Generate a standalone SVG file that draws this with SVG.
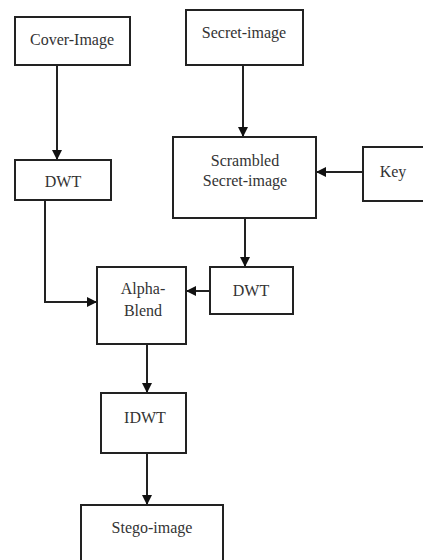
<svg xmlns="http://www.w3.org/2000/svg" width="423" height="560" viewBox="0 0 423 560">
<defs>
<style>
.box{fill:#fff;stroke:#222;stroke-width:2}
.t{font-family:"Liberation Serif","Times New Roman",serif;font-size:16px;fill:#333;text-anchor:middle}
.c{fill:none;stroke:#222;stroke-width:2}
</style>
<marker id="ah" markerWidth="10" markerHeight="10" refX="9" refY="5" orient="auto" markerUnits="userSpaceOnUse">
<path d="M0,0 L10,5 L0,10 Z" fill="#111"/>
</marker>
</defs>
<rect width="423" height="560" fill="#fff"/>
<g id="connectors">
<path class="c" d="M57,65 V159" marker-end="url(#ah)"/>
<path class="c" d="M243,65 V136" marker-end="url(#ah)"/>
<path class="c" d="M363,172 H317" marker-end="url(#ah)"/>
<path class="c" d="M245,218 V266" marker-end="url(#ah)"/>
<path class="c" d="M210,291 H187" marker-end="url(#ah)"/>
<path class="c" d="M45,200 V302 H96" marker-end="url(#ah)"/>
<path class="c" d="M147,344 V392" marker-end="url(#ah)"/>
<path class="c" d="M147,453 V504" marker-end="url(#ah)"/>
</g>
<g id="cover"><rect class="box" x="15" y="17" width="115" height="48"/><text class="t" x="72" y="45">Cover-Image</text></g>
<g id="secret"><rect class="box" x="186" y="10" width="117" height="55"/><text class="t" x="244" y="38">Secret-image</text></g>
<g id="dwt1"><rect class="box" x="15" y="160" width="96" height="40"/><text class="t" x="63" y="187">DWT</text></g>
<g id="scrambled"><rect class="box" x="173" y="137" width="143" height="81"/><text class="t" x="245" y="166">Scrambled</text><text class="t" x="245" y="186">Secret-image</text></g>
<g id="key"><rect class="box" x="363" y="147" width="70" height="54"/><text class="t" x="393" y="177">Key</text></g>
<g id="dwt2"><rect class="box" x="210" y="267" width="83" height="47"/><text class="t" x="251" y="296">DWT</text></g>
<g id="alpha"><rect class="box" x="97" y="267" width="89" height="77"/><text class="t" x="143" y="294">Alpha-</text><text class="t" x="143" y="316">Blend</text></g>
<g id="idwt"><rect class="box" x="101" y="393" width="85" height="60"/><text class="t" x="145" y="423">IDWT</text></g>
<g id="stego"><rect class="box" x="81" y="505" width="142" height="70"/><text class="t" x="152" y="533">Stego-image</text></g>
</svg>
